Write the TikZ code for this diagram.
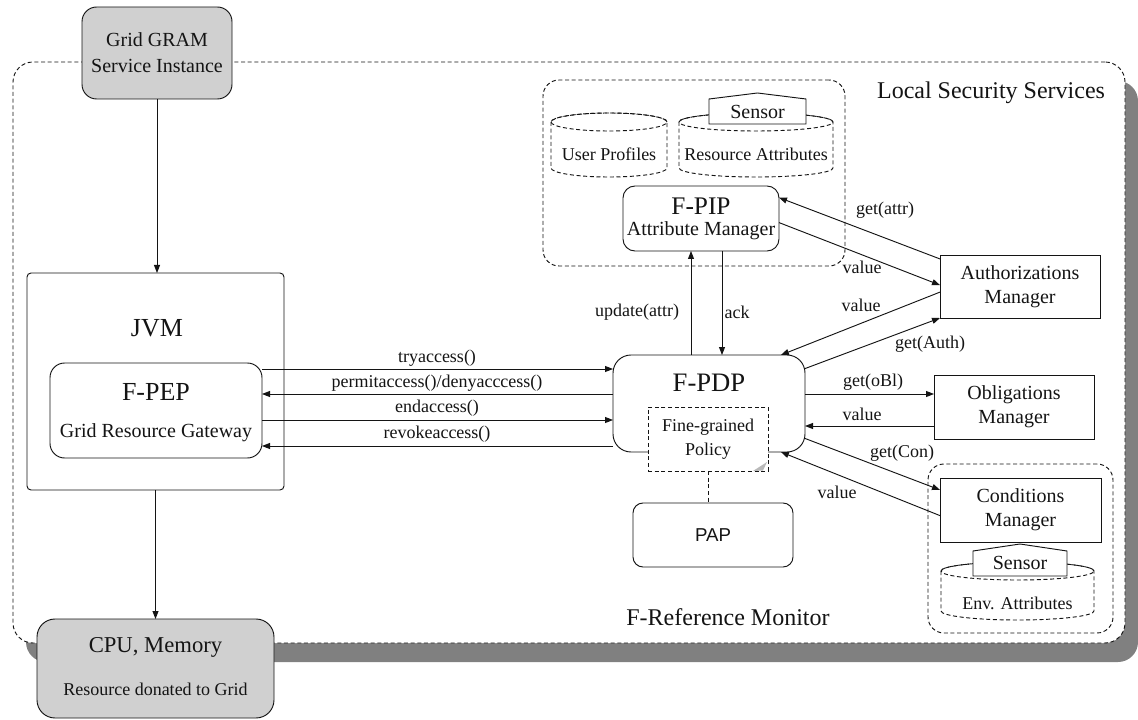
\documentclass[tikz,border=0pt]{standalone}
\usepackage{fontspec}
\setmainfont{Liberation Serif}
\newfontfamily\papfont{Liberation Sans}
\usetikzlibrary{arrows.meta,calc}
\newcommand\fsz[2]{\fontsize{#1}{#2}\selectfont}
\definecolor{boxgray}{RGB}{208,208,208}
\definecolor{shadowgray}{RGB}{128,128,128}
\definecolor{ink}{RGB}{20,20,20}

% dashed data store: left x, right x, top y, bottom y, half width (pt)
\newcommand\dbcyl[5]{%
  \draw[dashline, fill=white] (#1,#3) -- (#1,#4)
    arc[start angle=180, end angle=360, x radius=#5, y radius=6.75pt] -- (#2,#3)
    arc[start angle=0, end angle=180, x radius=#5, y radius=6.75pt];
  \draw[dashline] ({(#1+#2)/2},#3) ellipse[x radius=#5, y radius=6.75pt];
}
% sensor tag: left x, right x, roof y, eaves y, bottom y
\newcommand\sensorhouse[5]{%
  \draw[fill=white] (#1,#5) -- (#1,#4) -- ({(#1+#2)/2},#3) -- (#2,#4) -- (#2,#5) -- cycle;
}

\begin{document}
\begin{tikzpicture}[x=0.75pt, y=-0.75pt, line width=0.7pt, draw=ink,
  every node/.style={inner sep=0pt, outer sep=0pt, text=ink},
  dashline/.style={draw=ink, dash pattern=on 3pt off 2pt, line width=0.7pt},
  framebox/.style={dashline, fill=white},
  solidbox/.style={draw=ink, fill=white, line width=0.7pt},
  roundbox/.style={solidbox, rounded corners=#1},
  roundbox/.default=10pt,
  graybox/.style={draw=ink, fill=boxgray, line width=0.7pt, rounded corners=#1},
  graybox/.default=11pt,
  txt/.style={font=\fsz{15}{18}, align=center},
  lbl/.style={font=\fsz{13.5}{16}, align=center},
  big/.style={font=\fsz{19.5}{22}},
  arr/.style={draw=ink, -{Triangle[length=6pt, width=4.5pt]}}
]
\useasboundingbox (0,0) rectangle (1138,720);

% reference monitor frame with its drop shadow
\node[fill=shadowgray, rounded corners=15pt, minimum width=834pt, minimum height=435.75pt] (rmshadow) at (582,371.5) {};
\node[framebox, rounded corners=15pt, minimum width=834pt, minimum height=435.75pt] (rm) at (569,352.5) {};
\node[font=\fsz{18}{21}] (rmlabel) at (728,617) {F-Reference Monitor};

% local security services group
\node[dashline, rounded corners=12pt, minimum width=226.5pt, minimum height=139.5pt] (lss) at (694,173) {};
\node[font=\fsz{18}{21}, anchor=east] (lsslabel) at (1105,93) {Local Security Services};

\dbcyl{551}{667}{122}{168}{43.5pt}
\node[lbl] (userprof) at (609,154) {User Profiles};
\dbcyl{679}{833}{122}{168}{57.75pt}
\node[lbl] (resattr) at (756,154) {Resource Attributes};
\sensorhouse{709}{806}{93}{99}{124}
\node[txt] (sensor1) at (757.5,112) {Sensor};

\node[roundbox=9pt, minimum width=117pt, minimum height=48.75pt] (pip) at (701,218.5) {};
\node[font=\fsz{19}{22}] (piptitle) at (701,206) {F-PIP};
\node[txt] (pipsub) at (701,231) {Attribute Manager};

% conditions group
\node[dashline, rounded corners=12pt, minimum width=138.75pt, minimum height=126.75pt] (condgrp) at (1020.5,548.5) {};
\node[solidbox, txt, minimum width=120.75pt, minimum height=48pt] (cond) at (1020.5,510) {Conditions\\Manager};
\dbcyl{941}{1094}{571}{611}{57.375pt}
\node[lbl] (envattr) at (1017.5,603) {Env. Attributes};
\sensorhouse{973}{1067}{544}{551}{576}
\node[txt] (sensor2) at (1020,563) {Sensor};

% managers
\node[solidbox, txt, minimum width=120pt, minimum height=47.25pt] (auth) at (1020,286.5) {Authorizations\\Manager};
\node[solidbox, txt, minimum width=120pt, minimum height=48pt] (obl) at (1014,407) {Obligations\\Manager};

% decision point, policy and administration point
\node[roundbox=13.5pt, minimum width=144pt, minimum height=72.75pt] (pdp) at (709,403.5) {};
\node[font=\fsz{20}{23}] (pdptitle) at (709,383) {F-PDP};
\node[framebox, lbl, font=\fsz{13.5}{18}, minimum width=90pt, minimum height=48pt] (policy) at (708,439) {Fine-grained\\Policy};
\fill[gray!55] (753,471) -- (767,462) -- (763,470.5) -- cycle;
\node[roundbox=7.5pt, minimum width=120pt, minimum height=48pt, font=\papfont\fsz{14}{16}] (pap) at (713,535) {PAP};

% grid side
\node[graybox=11pt, txt, font=\fsz{15}{19.5}, minimum width=112.5pt, minimum height=69pt] (gram) at (157,53) {Grid GRAM\\Service Instance};
\node[solidbox, rounded corners=3pt, minimum width=192.75pt, minimum height=162.75pt] (jvm) at (155.5,381.5) {};
\node[big] (jvmlabel) at (157,328) {JVM};
\node[roundbox=11pt, minimum width=159pt, minimum height=71.25pt] (pep) at (156,410.5) {};
\node[big] (peptitle) at (156,392) {F-PEP};
\node[txt] (pepsub) at (156,433) {Grid Resource Gateway};
\node[graybox=13.5pt, minimum width=177.75pt, minimum height=74.25pt] (cpu) at (155.5,668.5) {};
\node[font=\fsz{17}{20}] (cputitle) at (155.5,647) {CPU, Memory};
\node[lbl] (cpusub) at (155.5,689) {Resource donated to Grid};

% grid flow
\draw[arr] (gram.south) -- (gram.south |- jvm.north);
\draw[arr] (jvm.south) -- (jvm.south |- cpu.north);

% enforcement <-> decision messages
\coordinate (ya) at (0,369);
\coordinate (yb) at (0,394);
\coordinate (yc) at (0,420);
\coordinate (yd) at (0,446);
\draw[arr] (pep.east |- ya) -- (pdp.west |- ya);
\draw[arr] (pdp.west |- yb) -- (pep.east |- yb);
\draw[arr] (pep.east |- yc) -- (pdp.west |- yc);
\draw[arr] (pdp.west |- yd) -- (pep.east |- yd);
\node[lbl] (m1) at (437,358) {tryaccess()};
\node[lbl] (m2) at (437,383) {permitaccess()/denyacccess()};
\node[lbl] (m3) at (437,408) {endaccess()};
\node[lbl] (m4) at (437,434) {revokeaccess()};

% decision point <-> attribute manager
\coordinate (xu) at (691,0);
\coordinate (xk) at (722,0);
\draw[arr] (pdp.north -| xu) -- (pip.south -| xu);
\draw[arr] (pip.south -| xk) -- (pdp.north -| xk);
\node[lbl] (upd) at (637,312) {update(attr)};
\node[lbl] (ack) at (737,312) {ack};

% authorizations
\draw[arr] (auth.161) -- (pip.15);
\draw[arr] (pip.-3) -- (auth.179);
\draw[arr] (auth.184) -- (pdp.34);
\draw[arr] (pdp.20) -- (auth.south west);
\node[lbl] (ga) at (885,210) {get(attr)};
\node[lbl] (va) at (862,267) {value};
\node[lbl] (vb) at (861,305) {value};
\node[lbl] (gau) at (930,344) {get(Auth)};

% obligations
\coordinate (yo1) at (0,394);
\coordinate (yo2) at (0,426);
\draw[arr] (pdp.east |- yo1) -- (obl.west |- yo1);
\draw[arr] (obl.west |- yo2) -- (pdp.east |- yo2);
\node[lbl] (go) at (873,382) {get(oBl)};
\node[lbl] (vo) at (862,414) {value};

% conditions
\draw[arr] (pdp.-20) -- (cond.166);
\draw[arr] (cond.184) -- (pdp.-34);
\node[lbl] (gc) at (902,453) {get(Con)};
\node[lbl] (vc) at (837,492) {value};

% policy administration link
\draw[dashline] (policy.south) -- (policy.south |- pap.north);
\end{tikzpicture}
\end{document}
